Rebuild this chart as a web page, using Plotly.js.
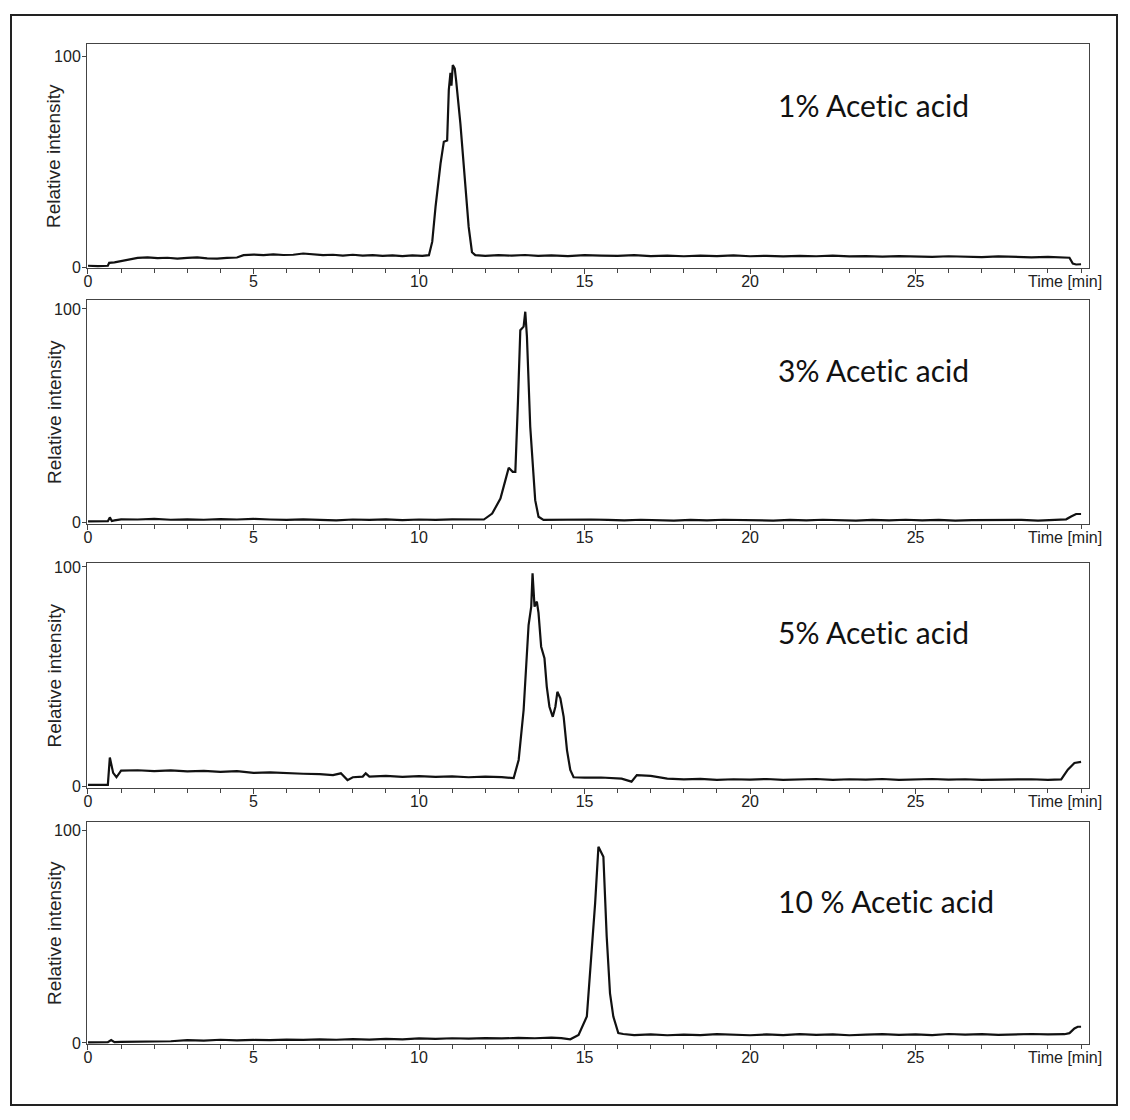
<!DOCTYPE html>
<html>
<head>
<meta charset="utf-8">
<script src="https://cdn.plot.ly/plotly-3.0.1.min.js"></script>
<style>
html,body{margin:0;padding:0;background:#fff;}
#chart{width:1130px;height:1120px;}
text{font-variant-ligatures:none;font-feature-settings:"liga" 0;}
</style>
</head>
<body>
<div id="chart"></div>
<script>
// ---- Data ----
const panelLabels = ["1% Acetic acid", "3% Acetic acid", "5% Acetic acid", "10 % Acetic acid"];
const xTickVals = [0, 5, 10, 15, 20, 25];
const xTickText = ["0", "5", "10", "15", "20", "25"];
const yTickVals = [0, 100];
const yTickText = ["0", "100"];

// 1% acetic acid
const time1 = [0, 0.3, 0.6, 0.64, 0.8, 1.0, 1.2, 1.5, 1.8, 2.1, 2.4, 2.7, 3.0, 3.3, 3.6, 3.9, 4.2, 4.5, 4.7, 5.0, 5.3, 5.6, 5.9, 6.2, 6.5, 6.8, 7.1, 7.4, 7.7, 8.0, 8.3, 8.6, 8.9, 9.2, 9.5, 9.8, 10.1, 10.3,
  10.4, 10.5, 10.65, 10.75, 10.85, 10.9, 10.95, 10.98, 11.02, 11.08, 11.12, 11.25, 11.4, 11.5, 11.6, 11.7,
  12.0, 12.4, 12.8, 13.2, 13.6, 14.0, 14.5, 15.0, 15.5, 16.0, 16.5, 17.0, 17.5, 18.0, 18.5, 19.0, 19.5, 20.0, 20.5, 21.0, 21.5, 22.0, 22.5, 23.0, 23.5, 24.0, 24.5, 25.0, 25.5, 26.0, 26.5, 27.0, 27.5, 28.0, 28.5, 29.0, 29.4, 29.65, 29.75, 29.85, 30.0];
const int1 = [0.6, 0.4, 0.6, 2.0, 2.2, 2.9, 3.6, 4.3, 4.6, 4.2, 4.4, 4.0, 4.3, 4.6, 4.1, 4.0, 4.3, 4.5, 5.6, 5.9, 5.6, 6.0, 5.7, 5.8, 6.4, 5.9, 5.6, 5.8, 5.4, 5.8, 5.4, 5.6, 5.3, 5.5, 5.2, 5.5, 5.3, 5.6,
  12.0, 28.6, 49.0, 59.4, 60.0, 84.0, 92.0, 86.0, 95.7, 94.0, 88.6, 68.0, 41.0, 19.0, 7.0, 5.6,
  5.3, 5.6, 5.4, 5.7, 5.3, 5.5, 5.2, 5.6, 5.4, 5.3, 5.6, 5.2, 5.4, 5.1, 5.4, 5.2, 5.5, 5.1, 5.3, 5.0, 5.3, 5.1, 5.4, 5.0, 5.2, 4.9, 5.2, 5.0, 4.8, 5.1, 4.9, 4.7, 5.0, 4.8, 4.6, 4.8, 4.6, 4.4, 1.6, 1.2, 1.3];

// 3% acetic acid
const time2 = [0, 0.3, 0.6, 0.66, 0.72, 0.8, 1.0, 1.5, 2.0, 2.5, 3.0, 3.5, 4.0, 4.5, 5.0, 5.5, 6.0, 6.5, 7.0, 7.5, 8.0, 8.5, 9.0, 9.5, 10.0, 10.5, 11.0, 11.5, 11.96,
  12.21, 12.46, 12.61, 12.71, 12.83, 12.91, 12.99, 13.06, 13.16, 13.21, 13.26, 13.36, 13.51, 13.61, 13.76,
  14.2, 14.7, 15.2, 15.7, 16.2, 16.7, 17.2, 17.7, 18.2, 18.7, 19.2, 19.7, 20.2, 20.7, 21.2, 21.7, 22.2, 22.7, 23.2, 23.7, 24.2, 24.7, 25.2, 25.7, 26.2, 26.7, 27.2, 27.7, 28.2, 28.7, 29.2, 29.55, 29.7, 29.85, 30.0];
const int2 = [0.3, 0.2, 0.4, 2.2, 0.5, 0.8, 1.3, 1.2, 1.5, 1.1, 1.3, 1.1, 1.4, 1.2, 1.5, 1.2, 1.0, 1.3, 1.1, 0.8, 1.2, 1.0, 1.3, 0.9, 1.2, 1.0, 1.3, 1.1, 1.2,
  4.0, 11.0, 19.7, 25.5, 23.6, 23.6, 57.0, 90.0, 91.7, 98.7, 87.0, 44.7, 10.3, 2.5, 1.0,
  1.1, 0.9, 1.2, 1.0, 0.8, 1.1, 1.0, 0.7, 1.0, 0.8, 1.1, 0.9, 1.0, 0.7, 1.0, 0.8, 1.1, 0.9, 0.7, 1.0, 0.8, 1.1, 0.8, 1.0, 0.7, 0.9, 1.0, 0.8, 1.0, 0.7, 1.1, 1.3, 2.6, 3.8, 3.8];

// 5% acetic acid
const time3 = [0, 0.3, 0.6, 0.66, 0.76, 0.86, 1.0, 1.5, 2.0, 2.5, 3.0, 3.5, 4.0, 4.5, 5.0, 5.5, 6.0, 6.5, 7.0, 7.4, 7.64, 7.84, 8.0, 8.3, 8.39, 8.5, 9.0, 9.5, 10.0, 10.5, 11.0, 11.5, 12.0, 12.5, 12.86,
  13.01, 13.16, 13.26, 13.31, 13.39, 13.43, 13.49, 13.56, 13.61, 13.69, 13.79, 13.86, 13.94, 14.04, 14.12, 14.18, 14.27, 14.37, 14.47, 14.57, 14.67,
  15.0, 15.5, 16.12, 16.42, 16.58, 17.0, 17.5, 18.0, 18.5, 19.0, 19.5, 20.0, 20.5, 21.0, 21.5, 22.0, 22.5, 23.0, 23.5, 24.0, 24.5, 25.0, 25.5, 26.0, 26.5, 27.0, 27.5, 28.0, 28.5, 29.0, 29.4, 29.6, 29.8, 30.0];
const int3 = [0.5, 0.4, 0.5, 13.0, 6.0, 4.0, 7.0, 7.2, 6.8, 7.1, 6.7, 6.9, 6.5, 6.8, 6.0, 6.2, 5.8, 5.6, 5.4, 5.0, 5.8, 2.7, 4.0, 4.3, 5.8, 4.3, 4.6, 4.2, 4.5, 4.2, 4.4, 4.0, 4.3, 4.1, 3.6,
  11.9, 34.7, 57.5, 73.5, 81.9, 97.1, 81.9, 84.2, 79.0, 63.6, 58.3, 45.3, 36.2, 31.6, 36.2, 43.0, 40.0, 31.6, 16.4, 7.3, 4.0,
  3.8, 3.9, 3.4, 2.0, 5.0, 4.6, 3.4, 3.0, 3.3, 2.8, 3.1, 2.9, 3.2, 2.8, 3.0, 3.2, 2.8, 3.1, 2.9, 3.2, 2.8, 3.0, 3.2, 2.9, 3.1, 2.8, 3.0, 2.9, 3.1, 2.8, 3.0, 7.5, 10.5, 11.0];

// 10% acetic acid
const time4 = [0, 0.3, 0.6, 0.7, 0.8, 1.0, 1.5, 2.0, 2.5, 3.0, 3.5, 4.0, 4.5, 5.0, 5.5, 6.0, 6.5, 7.0, 7.5, 8.0, 8.5, 9.0, 9.5, 10.0, 10.5, 11.0, 11.5, 12.0, 12.5, 13.0, 13.5, 14.0, 14.3, 14.57,
  14.82, 15.07, 15.22, 15.32, 15.42, 15.5, 15.57, 15.67, 15.77, 15.87, 16.02, 16.17,
  16.5, 17.0, 17.5, 18.0, 18.5, 19.0, 19.5, 20.0, 20.5, 21.0, 21.5, 22.0, 22.5, 23.0, 23.5, 24.0, 24.5, 25.0, 25.5, 26.0, 26.5, 27.0, 27.5, 28.0, 28.5, 29.0, 29.5, 29.65, 29.8, 29.9, 30.0];
const int4 = [0.3, 0.3, 0.4, 1.4, 0.4, 0.5, 0.6, 0.5, 0.8, 1.3, 1.1, 1.5, 1.2, 1.4, 1.3, 1.6, 1.4, 1.7, 1.5, 1.8, 1.6, 1.9, 1.7, 2.1, 1.9, 2.2, 2.0, 2.3, 2.1, 2.4, 2.2, 2.5, 2.3, 1.7,
  3.8, 12.4, 42.0, 65.6, 92.2, 89.8, 87.5, 50.0, 23.3, 12.4, 4.6, 4.2,
  3.7, 4.0, 3.6, 3.9, 3.7, 4.1, 3.8, 3.6, 4.0, 3.7, 4.1, 3.8, 4.0, 3.6, 3.9, 4.1, 3.8, 4.0, 3.7, 4.2, 3.9, 4.1, 3.8, 4.0, 4.2, 4.0, 4.1, 4.6, 6.8, 7.6, 7.6];

const times = [time1, time2, time3, time4];
const intens = [int1, int2, int3, int4];

// ---- Layout geometry (pixels) ----
const W = 1130, H = 1120;
const boxes = [[44, 268], [300, 524], [563, 788], [822, 1044]];
const yRanges = [[-0.47, 105.7], [-0.9, 104.2], [-0.9, 101.8], [-0.5, 103.8]];
const labelY = [105, 370, 632, 901];
const left = 87, right = 1089;

const traces = [];
const layout = {
  width: W, height: H,
  margin: {l: 0, r: 0, t: 0, b: 0},
  paper_bgcolor: '#ffffff', plot_bgcolor: '#ffffff',
  showlegend: false,
  annotations: [],
  shapes: [{type: 'rect', xref: 'paper', yref: 'paper', x0: 11/W, x1: 1117/W, y0: 1 - 1105/H, y1: 1 - 15/H,
            line: {color: '#222', width: 2}}]
};
const tickFont = {family: 'Liberation Sans, Arial, sans-serif', size: 16, color: '#222'};

for (let k = 0; k < 4; k++) {
  const sx = k === 0 ? '' : String(k + 1);
  traces.push({
    x: times[k], y: intens[k], type: 'scatter', mode: 'lines',
    xaxis: 'x' + sx, yaxis: 'y' + sx,
    line: {color: '#111', width: 2.2}, hoverinfo: 'x+y'
  });
  const top = boxes[k][0], bot = boxes[k][1];
  layout['xaxis' + sx] = {
    domain: [left / W, right / W], anchor: 'y' + sx, range: [-0.03, 30.24],
    tickvals: xTickVals, ticktext: xTickText, ticks: 'outside', ticklen: 5, tickwidth: 1, tickcolor: '#444',
    ticklabelstandoff: -6,
    minor: {dtick: 1, tick0: 0, ticks: 'outside', ticklen: 4, tickcolor: '#444'},
    showline: true, linecolor: '#444', linewidth: 1, mirror: true,
    showgrid: false, zeroline: false, tickfont: tickFont, fixedrange: true
  };
  layout['yaxis' + sx] = {
    domain: [1 - bot / H, 1 - top / H], anchor: 'x' + sx, range: yRanges[k],
    tickvals: yTickVals, ticktext: yTickText, ticks: 'outside', ticklen: 4, tickwidth: 1, tickcolor: '#444',
    ticklabelstandoff: -2,
    showline: true, linecolor: '#444', linewidth: 1, mirror: true,
    showgrid: false, zeroline: false, tickfont: tickFont, fixedrange: true
  };
  // panel label
  layout.annotations.push({
    xref: 'paper', yref: 'paper', x: 776 / W, y: 1 - labelY[k] / H, xanchor: 'left', yanchor: 'middle',
    text: panelLabels[k], showarrow: false,
    font: {family: 'Lato, Carlito, Calibri, sans-serif', size: 30, color: '#111'}
  });
  // y-axis title
  layout.annotations.push({
    xref: 'paper', yref: 'paper', x: 54 / W, y: 1 - (top + bot) / 2 / H, xanchor: 'center', yanchor: 'middle',
    text: 'Relative intensity', textangle: -90, showarrow: false,
    font: {family: 'Liberation Sans, Arial, sans-serif', size: 19, color: '#222'}
  });
  // x-axis title at right end
  layout.annotations.push({
    xref: 'paper', yref: 'paper', x: 1104 / W, y: 1 - (bot + 13) / H, xanchor: 'right', yanchor: 'middle',
    text: 'Time [min]', showarrow: false,
    font: {family: 'Liberation Sans, Arial, sans-serif', size: 16, color: '#222'}
  });
}

Plotly.newPlot('chart', traces, layout, {displayModeBar: false, staticPlot: true});
</script>
</body>
</html>
